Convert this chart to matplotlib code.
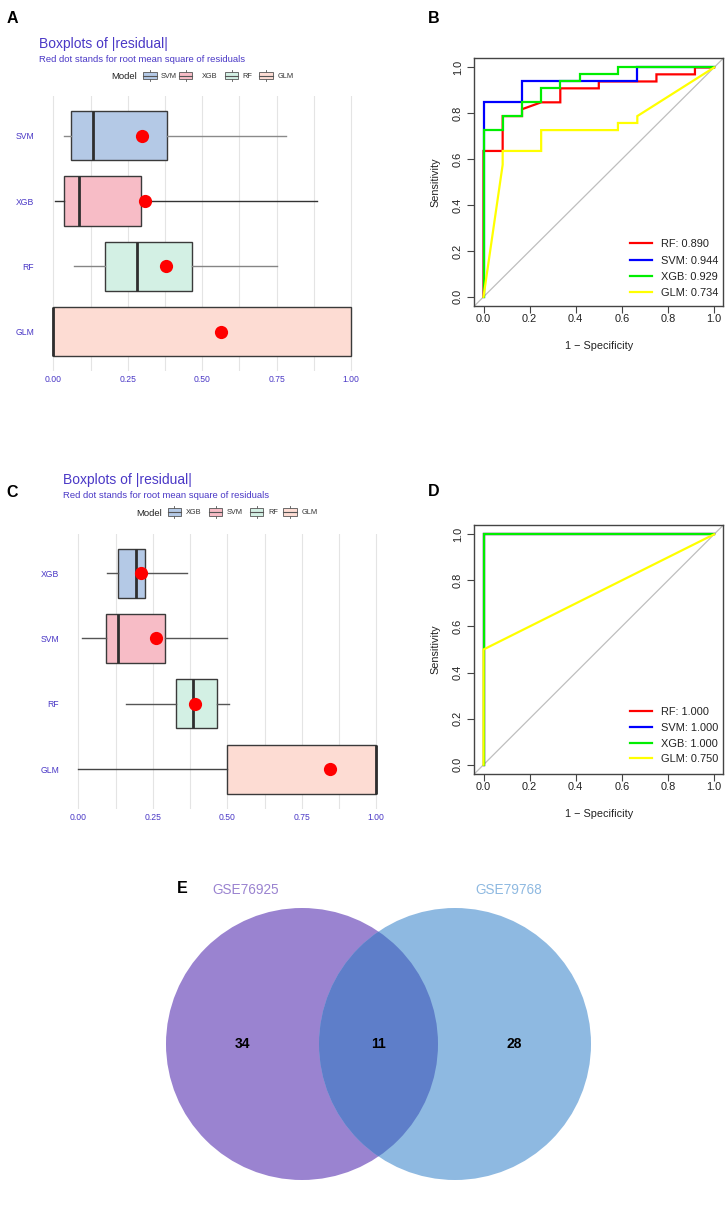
import numpy as np
import matplotlib
matplotlib.use("Agg")
import matplotlib.pyplot as plt
from matplotlib.patches import Circle, Rectangle

plt.rcParams['font.family'] = ['Liberation Sans', 'DejaVu Sans']

# ---------------- data ----------------
# Panel A boxplots (|residual|)
models_a = ["SVM", "XGB", "RF", "GLM"]
a_whislo = [0.037, 0.007, 0.068, 0.0]
a_q1 = [0.058, 0.035, 0.175, 0.0]
a_med = [0.132, 0.085, 0.281, 0.0]
a_q3 = [0.381, 0.294, 0.465, 1.0]
a_whishi = [0.781, 0.887, 0.750, 1.0]
a_rmse = [0.299, 0.309, 0.377, 0.563]

# Panel C boxplots
models_c = ["XGB", "SVM", "RF", "GLM"]
c_whislo = [0.095, 0.013, 0.161, 0.0]
c_q1 = [0.132, 0.094, 0.327, 0.5]
c_med = [0.194, 0.134, 0.386, 1.0]
c_q3 = [0.224, 0.290, 0.464, 1.0]
c_whishi = [0.364, 0.498, 0.505, 1.0]
c_rmse = [0.211, 0.262, 0.392, 0.844]

x_ticks = [0.0, 0.25, 0.5, 0.75, 1.0]
x_tick_labels = ["0.00", "0.25", "0.50", "0.75", "1.00"]

# Panel B ROC curves (1 - specificity, sensitivity)
roc_names = ["RF", "SVM", "XGB", "GLM"]
b_rf_fpr = [0, 0, 0.083, 0.083, 0.167, 0.167, 0.25, 0.333, 0.333, 0.5, 0.5, 0.75, 0.75, 0.917, 0.917, 1]
b_rf_tpr = [0, 0.636, 0.636, 0.788, 0.788, 0.818, 0.848, 0.848, 0.909, 0.909, 0.939, 0.939, 0.970, 0.970, 1, 1]
b_svm_fpr = [0, 0, 0.167, 0.167, 0.667, 0.667, 1]
b_svm_tpr = [0, 0.848, 0.848, 0.939, 0.939, 1, 1]
b_xgb_fpr = [0, 0, 0.083, 0.083, 0.167, 0.167, 0.25, 0.25, 0.333, 0.333, 0.417, 0.417, 0.583, 0.583, 1]
b_xgb_tpr = [0, 0.727, 0.727, 0.788, 0.788, 0.848, 0.848, 0.909, 0.909, 0.939, 0.939, 0.970, 0.970, 1, 1]
b_glm_fpr = [0, 0.083, 0.083, 0.25, 0.25, 0.583, 0.583, 0.667, 0.667, 1]
b_glm_tpr = [0, 0.576, 0.636, 0.636, 0.727, 0.727, 0.758, 0.758, 0.788, 1]
b_auc = ["0.890", "0.944", "0.929", "0.734"]

# Panel D ROC curves
d_rf_fpr = [0, 0, 1]
d_rf_tpr = [0, 1, 1]
d_svm_fpr = [0, 0, 1]
d_svm_tpr = [0, 1, 1]
d_xgb_fpr = [0, 0, 1]
d_xgb_tpr = [0, 1, 1]
d_glm_fpr = [0, 0, 1]
d_glm_tpr = [0, 0.5, 1]
d_auc = ["1.000", "1.000", "1.000", "0.750"]

roc_ticks = [0.0, 0.2, 0.4, 0.6, 0.8, 1.0]
roc_tick_labels = ["0.0", "0.2", "0.4", "0.6", "0.8", "1.0"]

# Panel E Venn
venn_sets = ["GSE76925", "GSE79768"]
venn_only = [34, 28]
venn_both = 11

# ---------------- style ----------------
W, H = 725, 1207
TXT = "#4A38C6"
box_fills = ["#B4C9E6", "#F7BCC6", "#D3F0E4", "#FDDCD3"]
roc_colors = ["#FF0000", "#0000FF", "#00EE00", "#FFFF00"]

fig = plt.figure(figsize=(W / 100, H / 100), dpi=100)


def add_ax(x0, y0, x1, y1):
    return fig.add_axes([x0 / W, 1 - y1 / H, (x1 - x0) / W, (y1 - y0) / H])


overlay = fig.add_axes([0, 0, 1, 1], zorder=10)
overlay.set_xlim(0, W)
overlay.set_ylim(H, 0)
overlay.axis("off")
overlay.patch.set_alpha(0)


def draw_box_panel(zero_px, one_px, top, bottom, models, wl, q1, md, q3, wh, rmse, wcols):
    span = one_px - zero_px
    ax = add_ax(zero_px - 0.05 * span, top, one_px + 0.05 * span, bottom)
    ax.set_xlim(-0.05, 1.05)
    ax.set_ylim(0.4, 4.6)
    positions = [4, 3, 2, 1]
    for g in np.arange(0, 1.0001, 0.125):
        ax.axvline(g, color="#E4E4E4", lw=0.8, zorder=0)
    stats = [dict(whislo=wl[i], q1=q1[i], med=md[i], q3=q3[i], whishi=wh[i], fliers=[])
             for i in range(len(models))]
    kw = dict(positions=positions, widths=0.75, patch_artist=True, showfliers=False,
              showcaps=False,
              boxprops=dict(edgecolor="#3A3A3A", linewidth=1.0),
              medianprops=dict(color="#2E2E2E", linewidth=2.0, solid_capstyle="butt"),
              whiskerprops=dict(linewidth=1.0))
    try:
        res = ax.bxp(stats, orientation="horizontal", **kw)
    except TypeError:
        res = ax.bxp(stats, vert=False, **kw)
    for patch, c in zip(res["boxes"], box_fills):
        patch.set_facecolor(c)
    for i, wc in enumerate(wcols):
        res["whiskers"][2 * i].set_color(wc)
        res["whiskers"][2 * i + 1].set_color(wc)
    ax.plot(rmse, positions, "o", color="#FF0000", ms=9.5, mec="none", zorder=6)
    ax.set_yticks(positions)
    ax.set_yticklabels(models)
    ax.set_xticks(x_ticks)
    ax.set_xticklabels(x_tick_labels)
    ax.tick_params(length=0, colors=TXT, labelsize=6.2)
    ax.tick_params(axis="x", pad=3)
    ax.tick_params(axis="y", pad=3)
    for s in ax.spines.values():
        s.set_visible(False)
    return ax


def draw_key(xl, yc, color):
    w, h = 13.3, 7.4
    overlay.plot([xl + w / 2, xl + w / 2], [yc - h / 2 - 2.2, yc + h / 2 + 2.2], color="#555555", lw=0.6)
    overlay.add_patch(Rectangle((xl, yc - h / 2), w, h, facecolor=color, edgecolor="#555555", lw=0.6, zorder=3))
    overlay.plot([xl, xl + w], [yc, yc], color="#555555", lw=0.8, zorder=4)


def draw_box_header(x, title_base, sub_base, leg_y, model_x, key_xs, text_xs, names):
    overlay.text(x, title_base, "Boxplots of |residual|", fontsize=10, color=TXT, va="baseline")
    overlay.text(x, sub_base, "Red dot stands for root mean square of residuals", fontsize=6.8,
                 color=TXT, va="baseline")
    overlay.text(model_x, leg_y, "Model", fontsize=6.8, color="#222222", va="center_baseline")
    for kx, tx, nm, col in zip(key_xs, text_xs, names, box_fills):
        draw_key(kx, leg_y, col)
        overlay.text(tx, leg_y, nm, fontsize=5.3, color="#333333", va="center_baseline")


# Panel A
draw_box_panel(53.3, 351.0, 96.4, 371.0, models_a, a_whislo, a_q1, a_med, a_q3, a_whishi, a_rmse,
               ["#8A8A8A", "#333333", "#858585", "#333333"])
draw_box_header(39, 48.3, 61.7, 75.5, 111, [143.3, 179.0, 225.0, 259.3],
                [161.0, 201.7, 242.3, 277.3], models_a)

# Panel C
draw_box_panel(78.3, 376.3, 533.8, 808.5, models_c, c_whislo, c_q1, c_med, c_q3, c_whishi, c_rmse,
               ["#555555", "#555555", "#555555", "#444444"])
draw_box_header(63.3, 484.3, 498.0, 512.0, 136, [167.7, 209.0, 250.0, 283.3],
                [186.0, 226.7, 268.3, 301.7], models_c)


def draw_roc(top, bottom, curves, aucs, leg_rows):
    x0, x1 = 474.3, 723.3
    ax = add_ax(x0, top, x1, bottom)
    ax.set_xlim(-0.04, 1.04)
    ax.set_ylim(-0.04, 1.04)
    ax.axline((0, 0), (1, 1), color="#BEBEBE", lw=0.9, zorder=1)
    for (fx, ty), col in zip(curves, roc_colors):
        ax.plot(fx, ty, color=col, lw=1.6, zorder=3, solid_joinstyle="miter")
    ax.set_xticks(roc_ticks)
    ax.set_xticklabels(roc_tick_labels)
    ax.set_yticks(roc_ticks)
    ax.set_yticklabels(roc_tick_labels, rotation=90, va="center")
    ax.tick_params(direction="out", length=4.8, width=0.8, color="#444444", labelsize=7.9,
                   labelcolor="#222222")
    ax.tick_params(axis="x", pad=0.8)
    ax.tick_params(axis="y", pad=3.5)
    for s in ax.spines.values():
        s.set_color("#444444")
        s.set_linewidth(1.0)
    yc = (top + bottom) / 2
    overlay.text(435, yc, "Sensitivity", rotation=90, fontsize=7.8, color="#222222",
                 ha="center", va="center")
    overlay.text((x0 + x1) / 2, bottom + 40, "1 \u2212 Specificity", fontsize=7.8, color="#222222",
                 ha="center", va="center")
    for ry, nm, auc, col in zip(leg_rows, roc_names, aucs, roc_colors):
        overlay.plot([630, 651.7], [ry, ry], color=col, lw=1.6)
        overlay.text(661, ry, f"{nm}: {auc}", fontsize=7.9, color="#222222", va="center_baseline")


draw_roc(58.3, 306.0,
         [(b_rf_fpr, b_rf_tpr), (b_svm_fpr, b_svm_tpr), (b_xgb_fpr, b_xgb_tpr), (b_glm_fpr, b_glm_tpr)],
         b_auc, [243.3, 259.6, 275.9, 292.2])
draw_roc(525.1, 773.9,
         [(d_rf_fpr, d_rf_tpr), (d_svm_fpr, d_svm_tpr), (d_xgb_fpr, d_xgb_tpr), (d_glm_fpr, d_glm_tpr)],
         d_auc, [711.0, 726.8, 742.6, 758.4])

# Panel labels
for lab, lx, ly in [("A", 6.7, 23.3), ("B", 427.7, 22.7), ("C", 6.7, 496.7), ("D", 427.7, 496.0),
                    ("E", 176.7, 893.0)]:
    overlay.text(lx, ly, lab, fontsize=11.5, fontweight="bold", color="black", va="baseline")

# Panel E Venn
r = 136.0
cy = 1044.0
c1, c2 = 302.0, 455.0
left = Circle((c1, cy), r, facecolor="#9A83D0", edgecolor="none", zorder=1)
right = Circle((c2, cy), r, facecolor="#8EB9E1", edgecolor="none", zorder=1)
overlay.add_patch(left)
overlay.add_patch(right)
inter = Circle((c2, cy), r, facecolor="#5E7EC9", edgecolor="none", zorder=2)
overlay.add_patch(inter)
inter.set_clip_path(left)

overlay.text(((c1 - r) + (c2 - r)) / 2, cy, str(venn_only[0]), fontsize=10, fontweight="bold",
             ha="center", va="center", zorder=5)
overlay.text(((c2 - r) + (c1 + r)) / 2, cy, str(venn_both), fontsize=10, fontweight="bold",
             ha="center", va="center", zorder=5)
overlay.text(((c1 + r) + (c2 + r)) / 2, cy, str(venn_only[1]), fontsize=10, fontweight="bold",
             ha="center", va="center", zorder=5)
overlay.text(245.5, 890, venn_sets[0], fontsize=9.8, color="#9A83D0", ha="center", va="center")
overlay.text(508.3, 890, venn_sets[1], fontsize=9.8, color="#8EB9E1", ha="center", va="center")

fig.savefig("out.png", dpi=100)
